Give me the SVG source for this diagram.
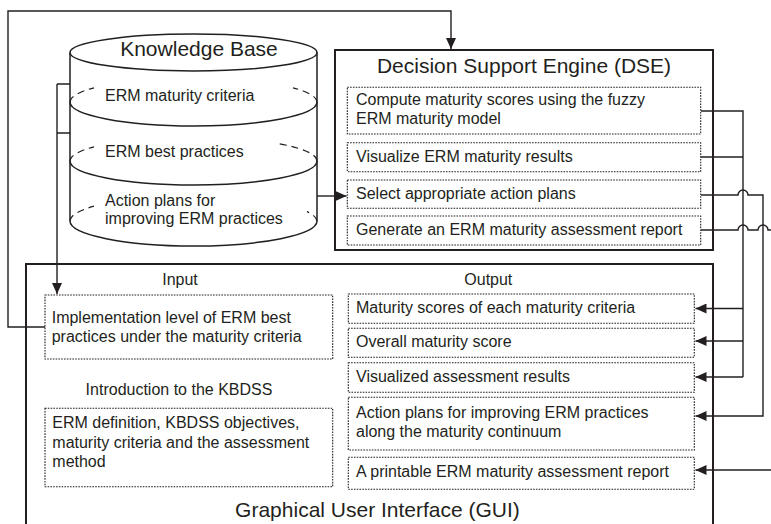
<svg xmlns="http://www.w3.org/2000/svg" width="771" height="524" viewBox="0 0 771 524">
<style>
text{font-family:"Liberation Sans",Arial,sans-serif;fill:#231f20}
.t16{font-size:16px}
.t21{font-size:21px}
.mid{text-anchor:middle}
.box{fill:none;stroke:#231f20;stroke-width:2}
.dot{fill:#fff;stroke:#231f20;stroke-width:1.1;stroke-dasharray:1.6 1.2}
.cyl{fill:none;stroke:#231f20;stroke-width:1.5}
.dash{fill:none;stroke:#231f20;stroke-width:1.2;stroke-dasharray:7 5}
.ln{fill:none;stroke:#231f20;stroke-width:1.4}
.arr{fill:none;stroke:#231f20;stroke-width:1.4;marker-end:url(#ah)}
</style>
<defs>
<marker id="ah" markerUnits="userSpaceOnUse" markerWidth="12" markerHeight="10" refX="11" refY="5" orient="auto">
<path d="M0,0 L11,5 L0,10 z" fill="#231f20"/>
</marker>
</defs>
<rect width="771" height="524" fill="#fff"/>

<g id="kb">
<path class="cyl" d="M70,52.5 L70,221 A123.5,25 0 0,0 317,221 L317,52.5"/>
<ellipse class="cyl" cx="193.5" cy="52.5" rx="123.5" ry="18.5" fill="#fff"/>
<path class="cyl" d="M70,102 A123.5,24 0 0,0 317,102"/>
<path class="cyl" d="M70,161 A123.5,24 0 0,0 317,161"/>
<path class="dash" d="M70,102 A123.5,24 0 0,1 94,87.8"/>
<path class="dash" d="M317,102 A123.5,24 0 0,0 293,87.8"/>
<path class="dash" d="M70,161 A123.5,24 0 0,1 94,146.8"/>
<path class="dash" d="M317,161 A123.5,24 0 0,0 277,143.3"/>
<path class="dash" d="M70,221 A123.5,25 0 0,1 94,206.2"/>
<path class="dash" d="M317,221 A123.5,25 0 0,0 307,211.6"/>
<text class="t21 mid" x="199" y="56">Knowledge Base</text>
<text class="t16" x="105" y="100.7">ERM maturity criteria</text>
<text class="t16" x="105" y="157.3">ERM best practices</text>
<text class="t16" x="105" y="205.7">Action plans for</text>
<text class="t16" x="105" y="224.3">improving ERM practices</text>
</g>

<g id="dse">
<rect class="box" x="335" y="50" width="378" height="200"/>
<text class="t21 mid" x="524" y="73.3">Decision Support Engine (DSE)</text>
<g id="dse1"><rect class="dot" x="347.3" y="87.3" width="353.4" height="46.7"/>
<text class="t16" x="356" y="105">Compute maturity scores using the fuzzy</text>
<text class="t16" x="356" y="124.3">ERM maturity model</text></g>
<g id="dse2"><rect class="dot" x="347.3" y="142.7" width="353.4" height="29"/>
<text class="t16" x="356" y="161.7">Visualize ERM maturity results</text></g>
<g id="dse3"><rect class="dot" x="347.3" y="180" width="353.4" height="28.3"/>
<text class="t16" x="356" y="199">Select appropriate action plans</text></g>
<g id="dse4"><rect class="dot" x="347.3" y="216" width="353.4" height="29"/>
<text class="t16" x="356" y="235">Generate an ERM maturity assessment report</text></g>
</g>

<g id="gui">
<rect class="box" x="26" y="264" width="687" height="290"/>
<text class="t21 mid" x="377.5" y="517.3">Graphical User Interface (GUI)</text>
<text class="t16 mid" x="180" y="285">Input</text>
<text class="t16 mid" x="488.3" y="285">Output</text>
<text class="t16 mid" x="179" y="395">Introduction to the KBDSS</text>
<g id="in1"><rect class="dot" x="45" y="295" width="287.7" height="64"/>
<text class="t16" x="51.7" y="322.7">Implementation level of ERM best</text>
<text class="t16" x="51.7" y="341.7">practices under the maturity criteria</text></g>
<g id="in2"><rect class="dot" x="45" y="408.3" width="287.7" height="78.4"/>
<text class="t16" x="52.3" y="428.3">ERM definition, KBDSS objectives,</text>
<text class="t16" x="52.3" y="447.7">maturity criteria and the assessment</text>
<text class="t16" x="52.3" y="466.7">method</text></g>
<g id="out1"><rect class="dot" x="348.3" y="294" width="346" height="29.3"/>
<text class="t16" x="356" y="313.3">Maturity scores of each maturity criteria</text></g>
<g id="out2"><rect class="dot" x="348.3" y="328.3" width="346" height="29"/>
<text class="t16" x="356" y="347.3">Overall maturity score</text></g>
<g id="out3"><rect class="dot" x="348.3" y="362.7" width="346" height="29.6"/>
<text class="t16" x="356" y="382.3">Visualized assessment results</text></g>
<g id="out4"><rect class="dot" x="348.3" y="397.3" width="346" height="52.7"/>
<text class="t16" x="356" y="418.3">Action plans for improving ERM practices</text>
<text class="t16" x="356" y="436.7">along the maturity continuum</text></g>
<g id="out5"><rect class="dot" x="348.3" y="457.3" width="346" height="32"/>
<text class="t16" x="356" y="477.3">A printable ERM maturity assessment report</text></g>
</g>

<g id="connectors">
<path class="ln" d="M57,133 L70,133 M57,84 L70,84"/>
<path class="arr" d="M57,84 L57,294"/>
<path class="arr" d="M45,327 L8,327 L8,11 L451,11 L451,49"/>
<path class="arr" d="M317,196 L346.5,196"/>
<path class="ln" d="M701,111 L743,111 L743,377 M701,157 L743,157"/>
<path class="arr" d="M743,308.5 L695.5,308.5"/>
<path class="arr" d="M743,341 L695.5,341"/>
<path class="arr" d="M743,377 L695.5,377"/>
<path class="arr" d="M701,195 L738,195 A5,5 0 0,1 748,195 L763,195 L763,416 L695.5,416"/>
<path class="ln" d="M701,230 L738,230 A5,5 0 0,1 748,230 L758,230 A5,5 0 0,1 768,230 L771,230"/>
<path class="arr" d="M771,470 L695.5,470"/>
</g>
</svg>
